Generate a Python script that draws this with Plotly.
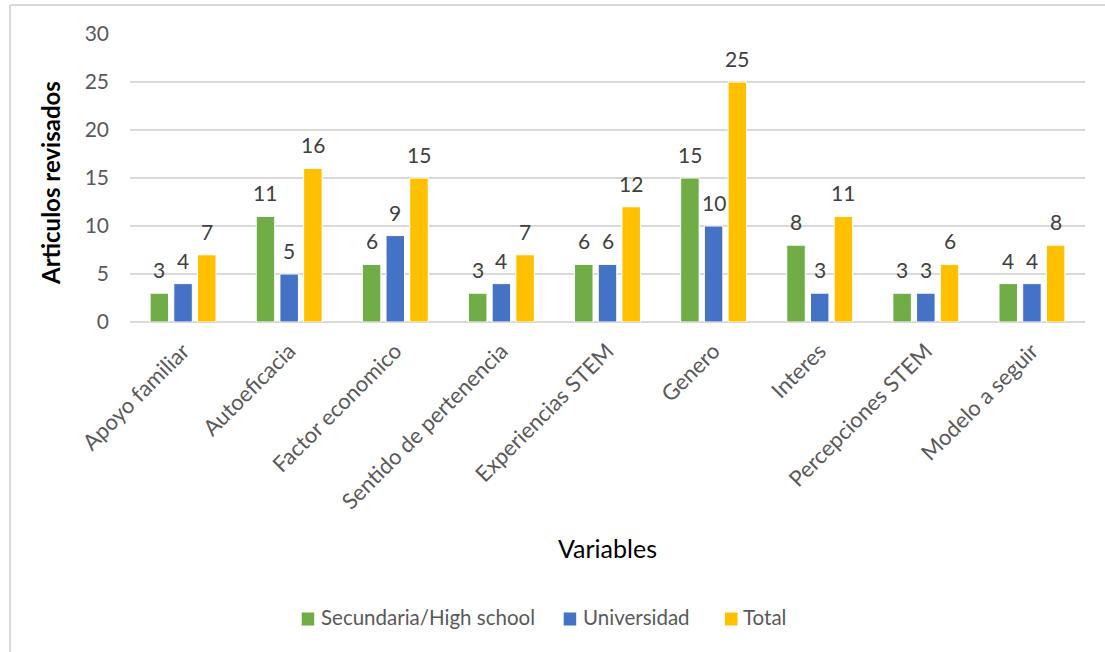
import plotly.graph_objects as go

categories = ["Apoyo familiar", "Autoeficacia", "Factor economico", "Sentido de pertenencia",
              "Experiencias STEM", "Genero", "Interes", "Percepciones STEM", "Modelo a seguir"]
secundaria = [3, 11, 6, 3, 6, 15, 8, 3, 4]
universidad = [4, 5, 9, 4, 6, 10, 3, 3, 4]
total = [7, 16, 15, 7, 12, 25, 11, 6, 8]
series_names = ["Secundaria/High school", "Universidad", "Total"]
colors = ["#70AD47", "#4472C4", "#FFC000"]

FONT = "Lato"
W, H = 1105, 652
L, R, T, B = 130, 20, 34, 330
pw, ph = W - L - R, H - T - B
BARGAP, GROUPGAP = 0.33, 0.22

def px_x(p):
    return (p - L) / pw

def px_y(p):
    return (H - B - p) / ph

cat_w = pw / len(categories)
slot = (1 - BARGAP) * cat_w / 3

fig = go.Figure()
all_series = [secundaria, universidad, total]
for si, (name, vals, col) in enumerate(zip(series_names, all_series, colors)):
    fig.add_trace(go.Bar(
        x=categories, y=vals, name=name,
        marker=dict(color=col, line=dict(color="white", width=1)),
        showlegend=False,
    ))
    for c, v in zip(categories, vals):
        fig.add_annotation(x=c, y=v, xref="x", yref="y", text=str(v), showarrow=False,
                           xanchor="center", yanchor="bottom", xshift=(si - 1) * slot, yshift=9,
                           font=dict(family=FONT, size=21, color="#404040"))

fig.update_layout(
    width=W, height=H,
    margin=dict(l=L, r=R, t=T, b=B, autoexpand=False),
    paper_bgcolor="white", plot_bgcolor="white",
    barmode="group", bargap=BARGAP, bargroupgap=GROUPGAP,
    font=dict(family=FONT, size=21, color="#595959"),
    showlegend=False,
    xaxis=dict(tickangle=-45, tickfont=dict(family=FONT, size=22, color="#595959"),
               showgrid=False, showline=False, ticks="", ticklabelstandoff=11),
    yaxis=dict(range=[0, 30], dtick=5, tickfont=dict(family=FONT, size=21, color="#595959"),
               showgrid=True, gridcolor="#D9D9D9", gridwidth=1.5, zeroline=True,
               zerolinecolor="#D9D9D9", zerolinewidth=2, ticks="", ticklabelstandoff=20),
)

fig.add_annotation(text="Variables", xref="paper", yref="paper", x=px_x(607), y=px_y(548),
                   showarrow=False, font=dict(family=FONT, size=25, color="#000000"),
                   xanchor="center", yanchor="middle")
fig.add_annotation(text="<b>Articulos revisados</b>", xref="paper", yref="paper", x=px_x(50), y=px_y(183),
                   showarrow=False, textangle=-90, font=dict(family=FONT, size=24, color="#000000"),
                   xanchor="center", yanchor="middle")

# legend drawn manually
legend_marker_x = [301.7, 563.7, 725]
legend_text_x = [319, 581, 741]
for name, col, mx, tx in zip(series_names, colors, legend_marker_x, legend_text_x):
    fig.add_shape(type="rect", xref="paper", yref="paper", x0=px_x(mx), x1=px_x(mx + 12.5),
                  y0=px_y(612.5), y1=px_y(625.5), fillcolor=col, line=dict(width=0))
    fig.add_annotation(text=name, xref="paper", yref="paper", x=px_x(tx), y=px_y(617),
                       showarrow=False, xanchor="left", yanchor="middle",
                       font=dict(family=FONT, size=20.5, color="#595959"))

# chart border (left and top visible)
fig.add_shape(type="line", xref="paper", yref="paper", x0=px_x(10), x1=px_x(10), y0=px_y(5), y1=px_y(660),
              line=dict(color="#D9D9D9", width=2))
fig.add_shape(type="line", xref="paper", yref="paper", x0=px_x(10), x1=px_x(1110), y0=px_y(5), y1=px_y(5),
              line=dict(color="#D9D9D9", width=2))

fig.write_html("out.html")
